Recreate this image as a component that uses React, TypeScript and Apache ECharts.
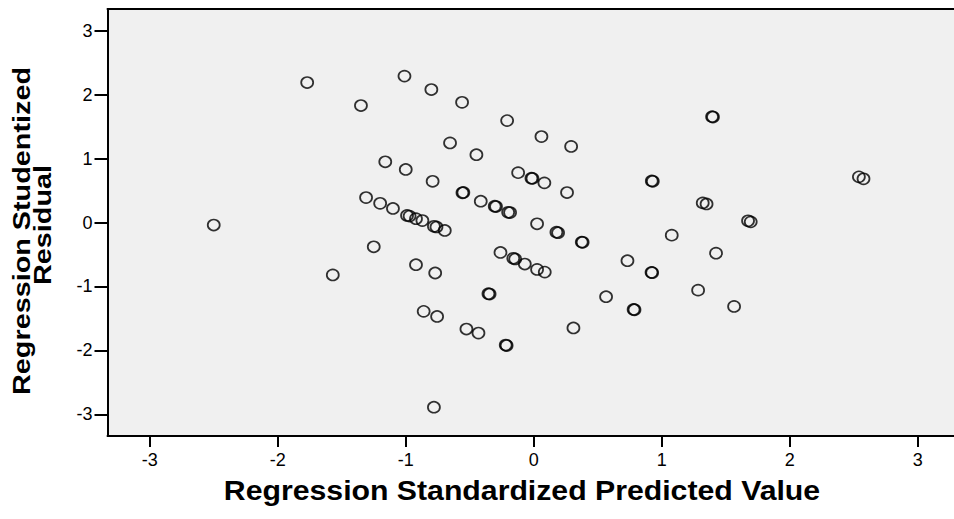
import React, { useEffect, useRef } from "react";
import * as echarts from "echarts";

// Regression Standardized Predicted Value (x) and Studentized Residual (y)
const predicted: number[] = [
  -2.5, -1.77, -1.57, -1.35, -1.31, -1.25, -1.2, -1.16, -1.1, -1.01,
  -1.0, -0.99, -0.97, -0.92, -0.92, -0.87, -0.86, -0.8, -0.79, -0.78,
  -0.76, -0.77, -0.755, -0.78, -0.695, -0.654, -0.56, -0.557, -0.55, -0.526,
  -0.448, -0.432, -0.414, -0.354, -0.345, -0.305, -0.295, -0.26, -0.219, -0.212,
  -0.208, -0.2, -0.185, -0.16, -0.145, -0.122, -0.07, -0.018, -0.01, 0.026,
  0.026, 0.06, 0.083, 0.086, 0.177, 0.19, 0.26, 0.292, 0.31, 0.375,
  0.382, 0.565, 0.732, 0.78, 0.787, 0.922, 0.93, 0.92, 0.925, 1.078,
  1.284, 1.32, 1.35, 1.393, 1.4, 1.424, 1.565, 1.674, 1.695, 2.54,
  2.576,
];
const residual: number[] = [
  -0.04, 2.19, -0.82, 1.83, 0.39, -0.38, 0.3, 0.95, 0.22, 2.29,
  0.83, 0.11, 0.1, 0.06, -0.66, 0.03, -1.39, 2.08, 0.645, -0.06,
  -0.07, -0.79, -1.47, -2.89, -0.125, 1.245, 1.88, 0.464, 0.47, -1.667,
  1.06, -1.73, 0.333, -1.114, -1.12, 0.255, 0.25, -0.469, -1.917, -1.925,
  1.594, 0.16, 0.155, -0.56, -0.57, 0.78, -0.65, 0.693, 0.69, -0.02,
  -0.734, 1.344, 0.62, -0.776, -0.151, -0.16, 0.469, 1.19, -1.65, -0.307,
  -0.31, -1.161, -0.598, -1.36, -1.365, 0.651, 0.645, -0.78, -0.785, -0.198,
  -1.058, 0.307, 0.29, 1.656, 1.65, -0.48, -1.313, 0.026, 0.01, 0.714,
  0.683,
];
const tickValues: number[] = [-3, -2, -1, 0, 1, 2, 3];

const xTitle = "Regression Standardized Predicted Value";
const yTitleLines: string[] = ["Regression Studentized", "Residual"];

export default function App() {
  const ref = useRef<HTMLDivElement>(null);
  useEffect(() => {
    if (!ref.current) return;
    const chart = echarts.init(ref.current, undefined, { renderer: "svg" });
    const data = predicted.map((x, i) => [x, residual[i]]);
    const font = "Arial, 'Liberation Sans', sans-serif";
    const axisCommon = {
      type: "value" as const,
      splitLine: { show: false },
      axisLine: { show: true, onZero: false, lineStyle: { color: "#000", width: 2 } },
      axisTick: {
        show: true,
        inside: false,
        customValues: tickValues,
        lineStyle: { color: "#000", width: 2 },
      },
      axisLabel: {
        customValues: tickValues,
        color: "#000",
        fontSize: 18,
        fontFamily: font,
      },
    };
    chart.setOption({
      animation: false,
      backgroundColor: "#fff",
      grid: {
        left: 107.5,
        top: 9,
        width: 860.2,
        bottom: 83,
        outerBoundsMode: "none",
        containLabel: false,
        show: true,
        backgroundColor: "#f0f0f0",
        borderWidth: 0,
      },
      xAxis: [
        {
          ...axisCommon,
          position: "bottom",
          min: -3.33,
          max: 3.39,
          axisTick: { ...axisCommon.axisTick, length: 11 },
          axisLabel: { ...axisCommon.axisLabel, margin: 15 },
        },
        {
          type: "value",
          position: "top",
          min: -3.33,
          max: 3.39,
          splitLine: { show: false },
          axisLine: { show: true, onZero: false, lineStyle: { color: "#000", width: 2 } },
          axisTick: { show: false },
          axisLabel: { show: false },
        },
      ],
      yAxis: {
        ...axisCommon,
        min: -3.34,
        max: 3.34,
        axisTick: { ...axisCommon.axisTick, length: 13 },
        axisLabel: { ...axisCommon.axisLabel, margin: 15 },
      },
      graphic: [
        {
          type: "text",
          x: 522,
          y: 490,
          scaleX: 1.08,
          style: {
            text: xTitle,
            font: `bold 28px ${font}`,
            fill: "#000",
            textAlign: "center",
            textVerticalAlign: "middle",
          },
        },
        {
          type: "text",
          x: 22,
          y: 231,
          rotation: Math.PI / 2,
          scaleX: 1.2,
          style: {
            text: yTitleLines[0],
            font: `bold 24px ${font}`,
            fill: "#000",
            textAlign: "center",
            textVerticalAlign: "middle",
          },
        },
        {
          type: "text",
          x: 43,
          y: 225,
          rotation: Math.PI / 2,
          scaleX: 1.2,
          style: {
            text: yTitleLines[1],
            font: `bold 24px ${font}`,
            fill: "#000",
            textAlign: "center",
            textVerticalAlign: "middle",
          },
        },
      ],
      series: [
        {
          type: "scatter",
          xAxisIndex: 0,
          data,
          symbol: "circle",
          symbolSize: [12, 11],
          itemStyle: {
            color: "rgba(0,0,0,0)",
            borderColor: "#000",
            borderWidth: 1.7,
          },
        },
      ],
    });
    return () => chart.dispose();
  }, []);
  return (
    <div
      ref={ref}
      style={{ position: "fixed", left: 0, top: 0, width: 954, height: 519 }}
    />
  );
}
